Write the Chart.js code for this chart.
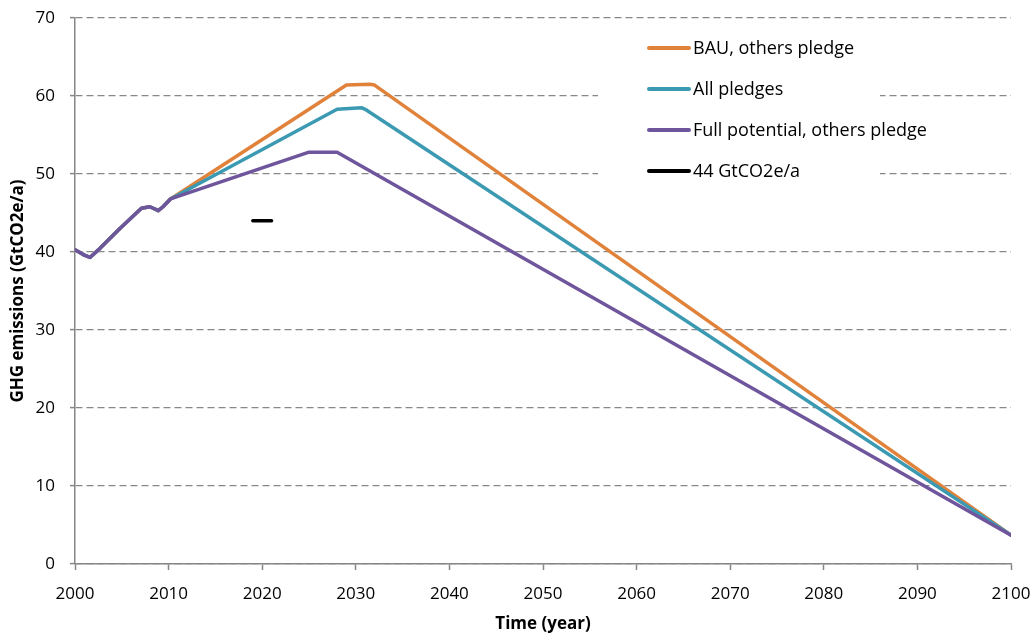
<!DOCTYPE html>
<html>
<head>
<meta charset="utf-8">
<script src="https://cdn.jsdelivr.net/npm/chart.js@4"></script>
<style>
  html, body { margin: 0; padding: 0; background: #fff; }
  #wrap { width: 1033px; height: 637px; }
</style>
</head>
<body>
<div id="wrap"><canvas id="ghgChart" width="1033" height="637"></canvas></div>
<script>
// history 2000-2010, shared by all scenarios
const histYears = [2000, 2001, 2001.6, 2002.7, 2004.8, 2007.1, 2008, 2008.9, 2009.4, 2010.2];
const histValues = [40.3, 39.6, 39.3, 40.5, 43.0, 45.6, 45.8, 45.3, 45.8, 46.8];

// scenarios after 2010
const bauYears = [2029, 2031.5, 2032, 2100];
const bauValues = [61.4, 61.5, 61.4, 3.7];
const pledgeYears = [2028, 2030.6, 2031, 2100];
const pledgeValues = [58.3, 58.5, 58.3, 3.7];
const fullYears = [2025, 2028, 2100];
const fullValues = [52.8, 52.8, 3.7];
const refYears = [2019, 2021];
const refValues = [44, 44];

const seriesNames = ['BAU, others pledge', 'All pledges', 'Full potential, others pledge', '44 GtCO2e/a'];
const xTicks = [2000, 2010, 2020, 2030, 2040, 2050, 2060, 2070, 2080, 2090, 2100];

function points(years, values) {
    return years.map((y, i) => ({ x: y, y: values[i] }));
}
const hist = points(histYears, histValues);

const FONT = 'Open Sans';

// legend drawn inside the plot on a white box
const boxLegend = {
    id: 'boxLegend',
    beforeDatasetsDraw(chart) {
        const ctx = chart.ctx;
        ctx.save();
        ctx.fillStyle = '#fff';
        ctx.fillRect(598, 26, 282, 166);
        chart.data.datasets.forEach((ds, i) => {
            const y = 48 + i * 41;
            ctx.strokeStyle = ds.borderColor;
            ctx.lineWidth = 4;
            ctx.lineCap = 'round';
            ctx.beginPath();
            ctx.moveTo(649, y);
            ctx.lineTo(689, y);
            ctx.stroke();
            ctx.fillStyle = '#000';
            ctx.font = '18px ' + FONT;
            ctx.textBaseline = 'middle';
            ctx.textAlign = 'left';
            ctx.fillText(ds.label, 693, y + 1);
        });
        ctx.restore();
    }
};

const ctx = document.getElementById('ghgChart').getContext('2d');
new Chart(ctx, {
    type: 'line',
    data: {
        datasets: [{
            label: seriesNames[0],
            data: hist.concat(points(bauYears, bauValues)),
            borderColor: '#E0823A',
            order: 3
        }, {
            label: seriesNames[1],
            data: hist.concat(points(pledgeYears, pledgeValues)),
            borderColor: '#3B9AB2',
            order: 2
        }, {
            label: seriesNames[2],
            data: hist.concat(points(fullYears, fullValues)),
            borderColor: '#6F559B',
            order: 1
        }, {
            label: seriesNames[3],
            data: points(refYears, refValues),
            borderColor: '#000',
            order: 0
        }]
    },
    options: {
        responsive: false,
        animation: false,
        layout: { padding: { top: 18, right: 22, left: 0, bottom: 0 } },
        elements: {
            point: { radius: 0 },
            line: { borderWidth: 3.5, tension: 0, fill: false, borderCapStyle: 'round', borderJoinStyle: 'round' }
        },
        plugins: {
            legend: { display: false },
            tooltip: { enabled: false }
        },
        scales: {
            x: {
                type: 'linear',
                min: 2000,
                max: 2100,
                afterBuildTicks(scale) { scale.ticks = xTicks.map(v => ({ value: v })); },
                afterFit(scale) {
                    scale.height = 73;
                    scale.paddingLeft = 0;
                    scale.paddingRight = 0;
                },
                ticks: {
                    color: '#000',
                    font: { family: FONT, size: 17 },
                    padding: 14,
                    maxRotation: 0,
                    callback: v => String(v)
                },
                grid: { drawOnChartArea: false, drawTicks: true, tickLength: 6, tickColor: '#868686', tickWidth: 1.5 },
                border: { color: '#868686', width: 1.5 },
                title: {
                    display: true,
                    text: 'Time (year)',
                    color: '#000',
                    font: { family: FONT, size: 17, weight: 'bold' },
                    padding: { top: 0, bottom: 3 }
                }
            },
            y: {
                min: 0,
                max: 70,
                ticks: {
                    stepSize: 10,
                    color: '#000',
                    font: { family: FONT, size: 17 },
                    padding: 15
                },
                afterFit(scale) {
                    scale.width = 75;
                    scale.paddingTop = 0;
                    scale.paddingBottom = 0;
                },
                grid: {
                    color: '#888',
                    lineWidth: 1.2,
                    drawTicks: true,
                    tickLength: 5,
                    tickBorderDash: [],
                    tickColor: '#868686',
                    tickWidth: 1.5
                },
                border: { color: '#868686', width: 1.5, dash: [7, 4] },
                title: {
                    display: true,
                    text: 'GHG emissions (GtCO2e/a)',
                    color: '#000',
                    font: { family: FONT, size: 17, weight: 'bold' },
                    padding: { top: 8, bottom: 0 }
                }
            }
        }
    },
    plugins: [boxLegend]
});
</script>
</body>
</html>
